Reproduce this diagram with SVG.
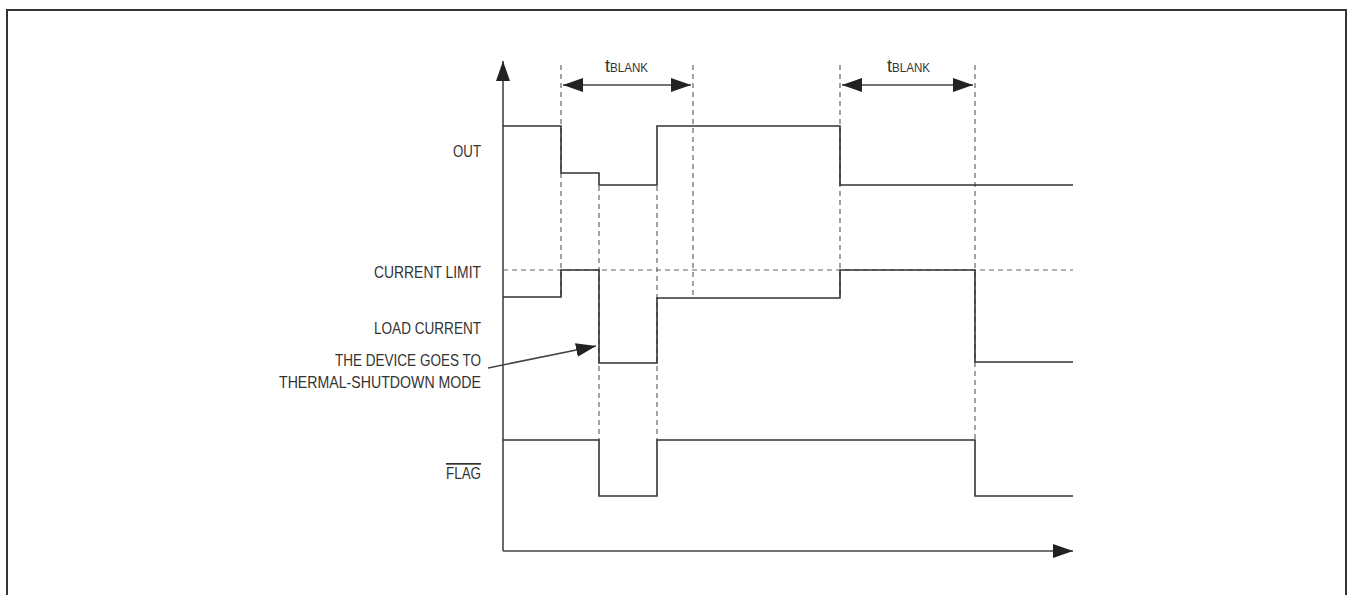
<svg xmlns="http://www.w3.org/2000/svg" width="1348" height="595" viewBox="0 0 1348 595">
<style>
.frame{fill:none;stroke:#333;stroke-width:2}
.axis{fill:none;stroke:#444;stroke-width:1.6}
.wave{fill:none;stroke:#333;stroke-width:1.6}
.dash{fill:none;stroke:#666;stroke-width:1.2;stroke-dasharray:5 4}
.lbl{font-family:"Liberation Sans",Arial,sans-serif;font-size:17px;fill:#333;text-anchor:end}
.t{font-family:"Liberation Sans",Arial,sans-serif;fill:#333}
</style>
<defs>
<marker id="ah" viewBox="0 0 20 14" refX="20" refY="7" markerWidth="20" markerHeight="14" markerUnits="userSpaceOnUse" orient="auto-start-reverse">
<path d="M0,0 L20,7 L0,14 Z" fill="#222"/>
</marker>
</defs>
<rect class="frame" x="7" y="10" width="1339" height="600"/>
<g id="axes">
<path class="axis" d="M503,551 V61" marker-end="url(#ah)"/>
<path class="axis" d="M503,551 H1073" marker-end="url(#ah)"/>
</g>
<g id="guides">
<path class="dash" d="M561,65 V297"/>
<path class="dash" d="M599,186 V440"/>
<path class="dash" d="M657,186 V440"/>
<path class="dash" d="M693,65 V297"/>
<path class="dash" d="M840,65 V297"/>
<path class="dash" d="M975,65 V440"/>
<path class="dash" d="M503,270 H1073"/>
</g>
<g id="out-wave"><path class="wave" d="M503,126 H561 V173 H599 V185 H657 V126 H840 V185 H1073"/></g>
<g id="load-wave"><path class="wave" d="M503,297 H561 V270 H599 V363 H657 V298 H840 V270 H975 V362 H1073"/></g>
<g id="flag-wave"><path class="wave" d="M503,440 H599 V496 H657 V440 H975 V496 H1073"/></g>
<g id="connectors">
<path class="axis" d="M563,85 H691" marker-start="url(#ah)" marker-end="url(#ah)"/>
<path class="axis" d="M842,85 H973" marker-start="url(#ah)" marker-end="url(#ah)"/>
<path class="axis" d="M488,368 L596,346" marker-end="url(#ah)"/>
</g>
<g id="tblank1"><text class="t" x="605" y="72"><tspan font-size="18">t</tspan><tspan font-size="13" textLength="38" lengthAdjust="spacingAndGlyphs">BLANK</tspan></text></g>
<g id="tblank2"><text class="t" x="887" y="72"><tspan font-size="18">t</tspan><tspan font-size="13" textLength="38" lengthAdjust="spacingAndGlyphs">BLANK</tspan></text></g>
<g id="label-out"><text class="lbl" x="481" y="157" textLength="28" lengthAdjust="spacingAndGlyphs">OUT</text></g>
<g id="label-limit"><text class="lbl" x="481" y="278" textLength="107" lengthAdjust="spacingAndGlyphs">CURRENT LIMIT</text></g>
<g id="label-load"><text class="lbl" x="481" y="334" textLength="107" lengthAdjust="spacingAndGlyphs">LOAD CURRENT</text></g>
<g id="label-device">
<text class="lbl" x="481" y="366" textLength="146" lengthAdjust="spacingAndGlyphs">THE DEVICE GOES TO</text>
<text class="lbl" x="481" y="388" textLength="202" lengthAdjust="spacingAndGlyphs">THERMAL-SHUTDOWN MODE</text>
</g>
<g id="label-flag"><text class="lbl" x="481" y="479" textLength="35" lengthAdjust="spacingAndGlyphs" text-decoration="overline">FLAG</text></g>
</svg>
